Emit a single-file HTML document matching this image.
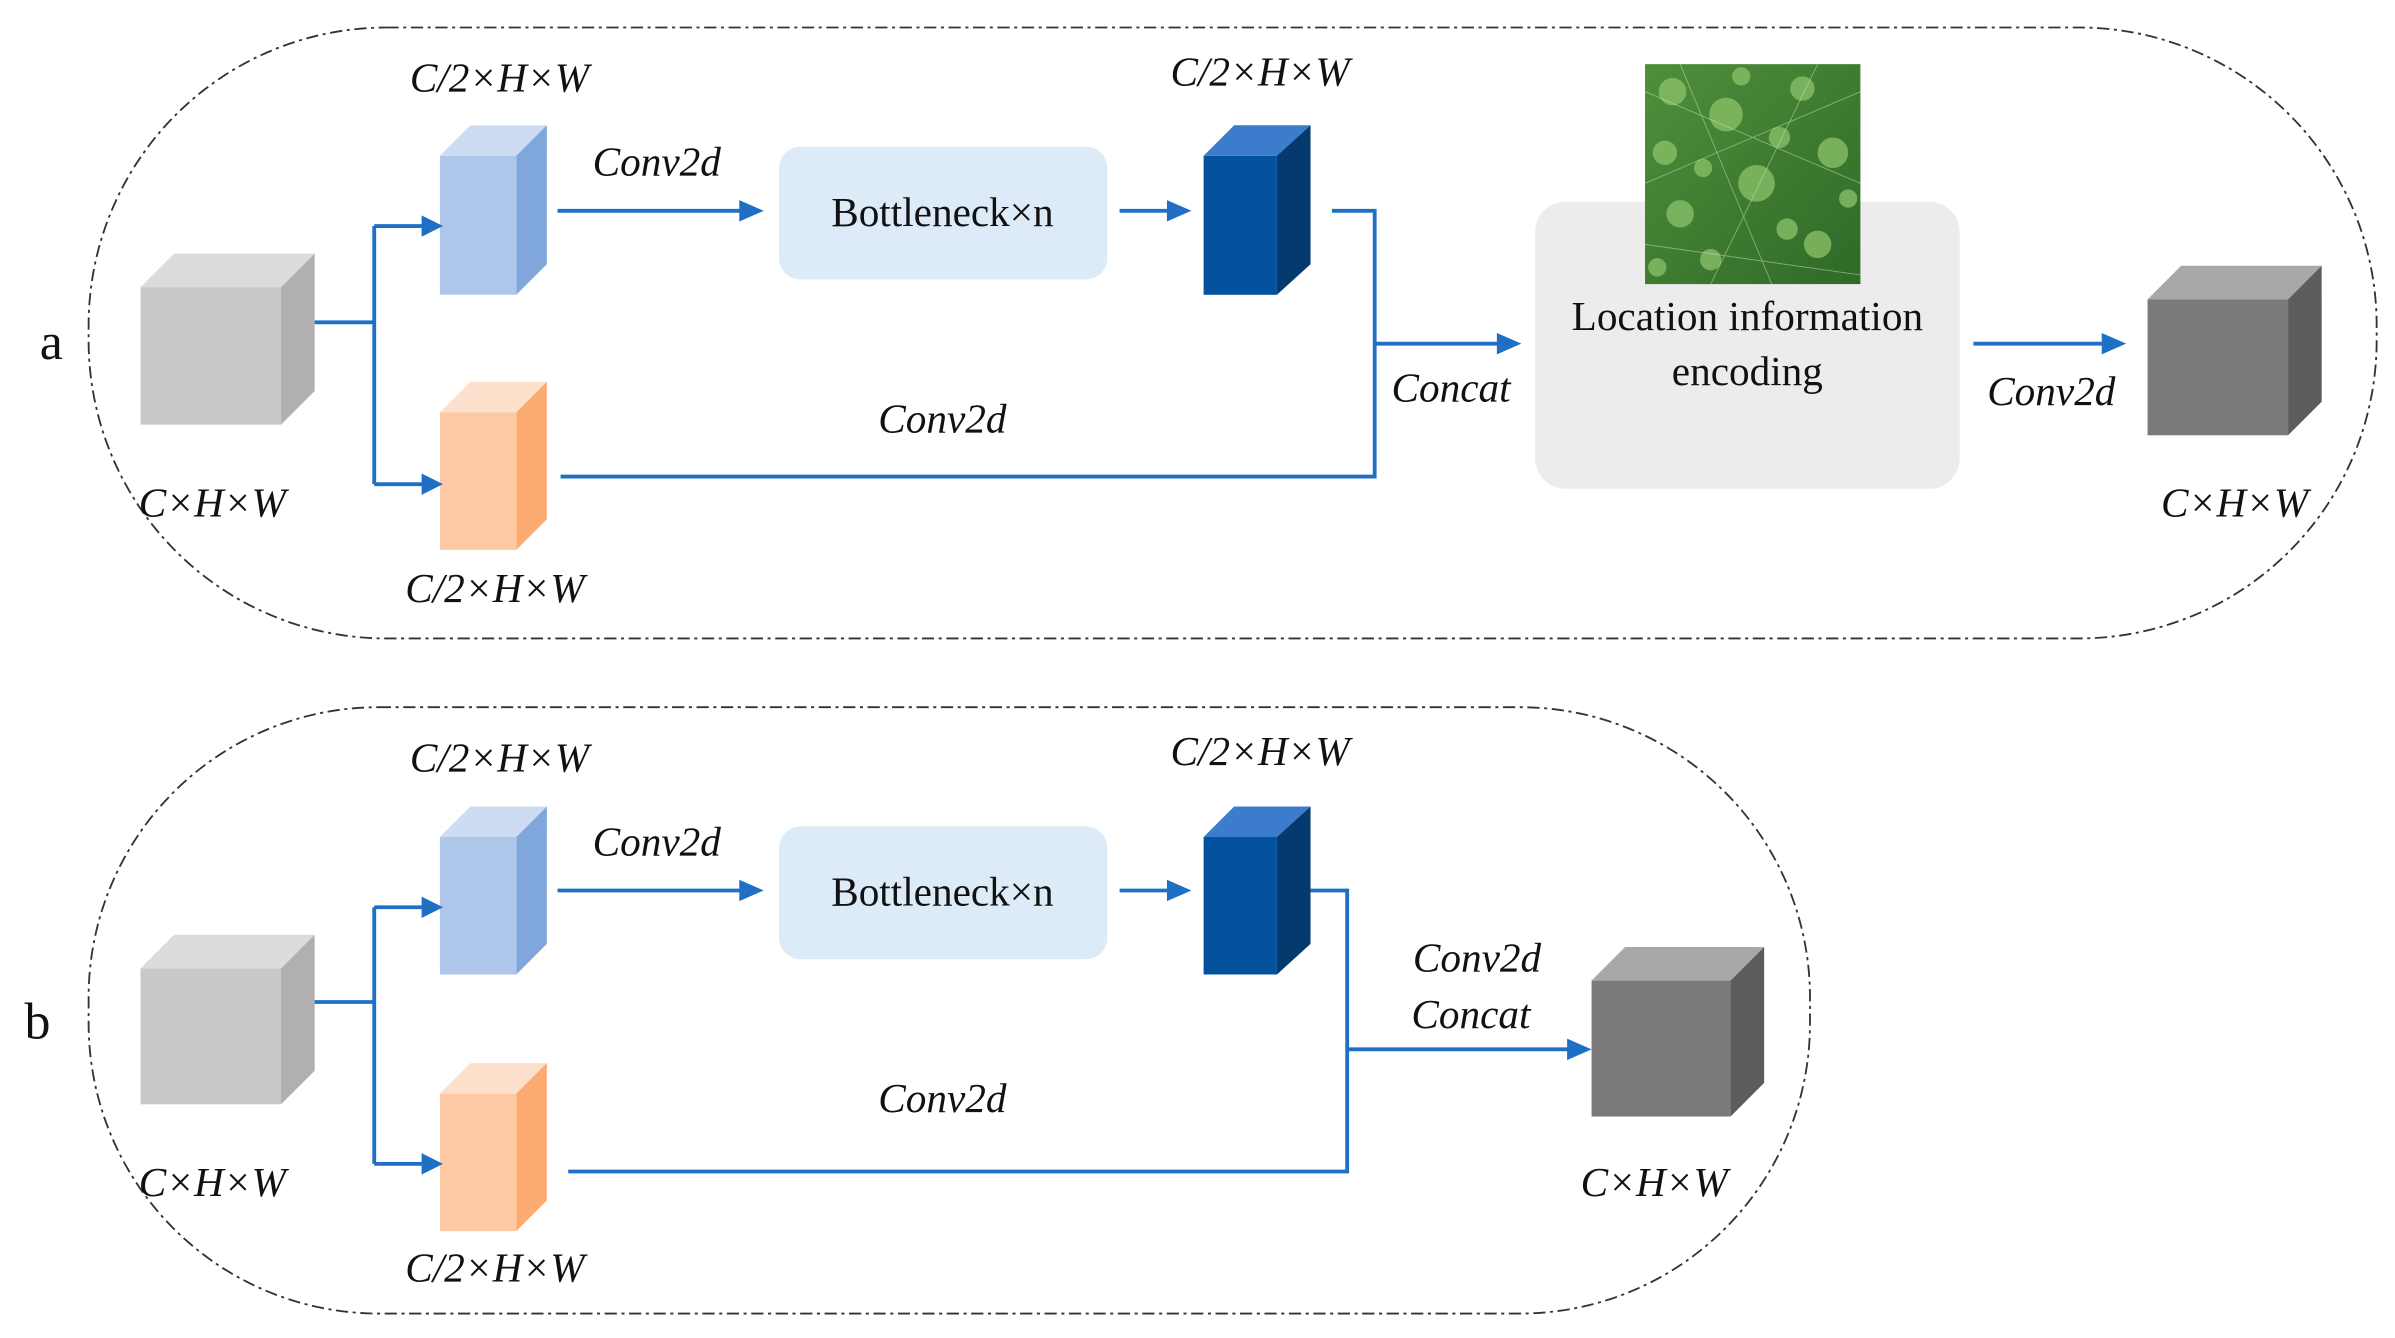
<!DOCTYPE html>
<html><head><meta charset="utf-8"><style>
html,body{margin:0;padding:0;background:#fff;}
svg{display:block;}
svg text{font-family:"Liberation Serif","Times New Roman","DejaVu Serif",serif;fill:#111;}
.i{font-style:italic;font-size:27px;}
</style></head><body>
<svg width="2395" height="1338" viewBox="0 0 1568 876" xmlns="http://www.w3.org/2000/svg" font-family="Liberation Serif, Times New Roman, DejaVu Serif, serif">
<defs>
<linearGradient id="leaf" x1="0" y1="0" x2="1" y2="1"><stop offset="0" stop-color="#4f8f3a"/><stop offset="1" stop-color="#2f6a28"/></linearGradient>
</defs>
<g fill="none" stroke="#333" stroke-width="1.2" stroke-dasharray="8,3,2,3">
<rect x="58" y="18" width="1498" height="400" rx="195" ry="195"/>
<rect x="58" y="463" width="1127" height="397" rx="190" ry="190"/>
</g>

<g>
<polygon points="92,188 114,166 206,166 184,188" fill="#dcdcdc"/>
<polygon points="184,188 206,166 206,256 184,278" fill="#b0b0b0"/>
<rect x="92" y="188" width="92" height="90" fill="#c8c8c8"/>

<polygon points="288,102 308,82 358,82 338,102" fill="#cddcf2"/>
<polygon points="338,102 358,82 358,173 338,193" fill="#7fa7dc"/>
<rect x="288" y="102" width="50" height="91" fill="#aec6ea"/>

<polygon points="288,270 308,250 358,250 338,270" fill="#fde0cc"/>
<polygon points="338,270 358,250 358,340 338,360" fill="#fbab72"/>
<rect x="288" y="270" width="50" height="90" fill="#fdc8a4"/>

<polygon points="788,102 808,82 858,82 836,102" fill="#3b7dcc"/>
<polygon points="836,102 858,82 858,173 836,193" fill="#053a6e"/>
<rect x="788" y="102" width="48" height="91" fill="#03529e"/>

<polygon points="1406,196 1428,174 1520,174 1498,196" fill="#a8a8a8"/>
<polygon points="1498,196 1520,174 1520,263 1498,285" fill="#5c5c5c"/>
<rect x="1406" y="196" width="92" height="89" fill="#7a7a7a"/>

<rect x="510" y="96" width="215" height="87" rx="14" fill="#dcebf7"/>
<text x="617" y="148" font-size="27" text-anchor="middle">Bottleneck×n</text>
<rect x="1005" y="132" width="278" height="188" rx="20" fill="#ececec"/>
<rect x="1077" y="42" width="141" height="144" fill="url(#leaf)"/>
<g fill="#8cc36a" opacity="0.75">
<circle cx="1095" cy="60" r="9"/><circle cx="1130" cy="75" r="11"/><circle cx="1180" cy="58" r="8"/><circle cx="1200" cy="100" r="10"/><circle cx="1150" cy="120" r="12"/><circle cx="1100" cy="140" r="9"/><circle cx="1190" cy="160" r="9"/><circle cx="1120" cy="170" r="7"/><circle cx="1165" cy="90" r="7"/><circle cx="1090" cy="100" r="8"/>
<circle cx="1210" cy="130" r="6"/><circle cx="1140" cy="50" r="6"/><circle cx="1115" cy="110" r="6"/><circle cx="1170" cy="150" r="7"/><circle cx="1085" cy="175" r="6"/>
</g>
<g stroke="#cfe3c0" stroke-width="0.6" opacity="0.5">
<line x1="1077" y1="60" x2="1218" y2="120"/><line x1="1077" y1="120" x2="1218" y2="60"/><line x1="1077" y1="160" x2="1218" y2="180"/><line x1="1100" y1="42" x2="1160" y2="186"/><line x1="1190" y1="42" x2="1120" y2="186"/>
</g>
<text x="1144" y="216" font-size="27" text-anchor="middle">Location information</text>
<text x="1144" y="252" font-size="27" text-anchor="middle">encoding</text>

<g stroke="#1f6fc5" stroke-width="2.5" fill="none">
<polyline points="206,211 245,211"/>
<polyline points="245,148 245,317"/>
<polyline points="245,148 278,148"/><polyline points="245,317 278,317"/>
<polyline points="365,138 488,138"/>
<polyline points="733,138 768,138"/>
<polyline points="872,138 900,138 900,312 367,312"/>
<polyline points="900,225 984,225"/>
<polyline points="1292,225 1380,225"/>
</g>
<g fill="#1f6fc5">
<polygon points="290,148 276,141 276,155"/><polygon points="290,317 276,310 276,324"/>
<polygon points="500,138 484,131 484,145"/><polygon points="780,138 764,131 764,145"/>
<polygon points="996,225 980,218 980,232"/><polygon points="1392,225 1376,218 1376,232"/>
</g>
<text class="i" x="327" y="60" text-anchor="middle">C/2×H×W</text>
<text class="i" x="825" y="56" text-anchor="middle">C/2×H×W</text>
<text class="i" x="430" y="115" text-anchor="middle">Conv2d</text>
<text class="i" x="617" y="283" text-anchor="middle">Conv2d</text>
<text class="i" x="139" y="338" text-anchor="middle">C×H×W</text>
<text class="i" x="324" y="394" text-anchor="middle">C/2×H×W</text>
<text class="i" x="950" y="263" text-anchor="middle">Concat</text>
<text class="i" x="1343" y="265" text-anchor="middle">Conv2d</text>
<text class="i" x="1463" y="338" text-anchor="middle">C×H×W</text>
<text x="26" y="235" font-size="34">a</text>
</g>

<g>
<polygon points="92,634 114,612 206,612 184,634" fill="#dcdcdc"/>
<polygon points="184,634 206,612 206,701 184,723" fill="#b0b0b0"/>
<rect x="92" y="634" width="92" height="89" fill="#c8c8c8"/>

<polygon points="288,548 308,528 358,528 338,548" fill="#cddcf2"/>
<polygon points="338,548 358,528 358,618 338,638" fill="#7fa7dc"/>
<rect x="288" y="548" width="50" height="90" fill="#aec6ea"/>

<polygon points="288,716 308,696 358,696 338,716" fill="#fde0cc"/>
<polygon points="338,716 358,696 358,786 338,806" fill="#fbab72"/>
<rect x="288" y="716" width="50" height="90" fill="#fdc8a4"/>

<polygon points="788,548 808,528 858,528 836,548" fill="#3b7dcc"/>
<polygon points="836,548 858,528 858,618 836,638" fill="#053a6e"/>
<rect x="788" y="548" width="48" height="90" fill="#03529e"/>

<polygon points="1042,642 1064,620 1155,620 1133,642" fill="#a8a8a8"/>
<polygon points="1133,642 1155,620 1155,709 1133,731" fill="#5c5c5c"/>
<rect x="1042" y="642" width="91" height="89" fill="#7a7a7a"/>

<rect x="510" y="541" width="215" height="87" rx="14" fill="#dcebf7"/>
<text x="617" y="593" font-size="27" text-anchor="middle">Bottleneck×n</text>

<g stroke="#1f6fc5" stroke-width="2.5" fill="none">
<polyline points="206,656 245,656"/>
<polyline points="245,594 245,762"/>
<polyline points="245,594 278,594"/><polyline points="245,762 278,762"/>
<polyline points="365,583 488,583"/>
<polyline points="733,583 768,583"/>
<polyline points="858,583 882,583 882,767 372,767"/>
<polyline points="882,687 1030,687"/>
</g>
<g fill="#1f6fc5">
<polygon points="290,594 276,587 276,601"/><polygon points="290,762 276,755 276,769"/>
<polygon points="500,583 484,576 484,590"/><polygon points="780,583 764,576 764,590"/>
<polygon points="1042,687 1026,680 1026,694"/>
</g>
<text class="i" x="327" y="505" text-anchor="middle">C/2×H×W</text>
<text class="i" x="825" y="501" text-anchor="middle">C/2×H×W</text>
<text class="i" x="430" y="560" text-anchor="middle">Conv2d</text>
<text class="i" x="617" y="728" text-anchor="middle">Conv2d</text>
<text class="i" x="139" y="783" text-anchor="middle">C×H×W</text>
<text class="i" x="324" y="839" text-anchor="middle">C/2×H×W</text>
<text class="i" x="967" y="636" text-anchor="middle">Conv2d</text>
<text class="i" x="963" y="673" text-anchor="middle">Concat</text>
<text class="i" x="1083" y="783" text-anchor="middle">C×H×W</text>
<text x="16" y="680" font-size="34">b</text>
</g>
</svg>
</body></html>
